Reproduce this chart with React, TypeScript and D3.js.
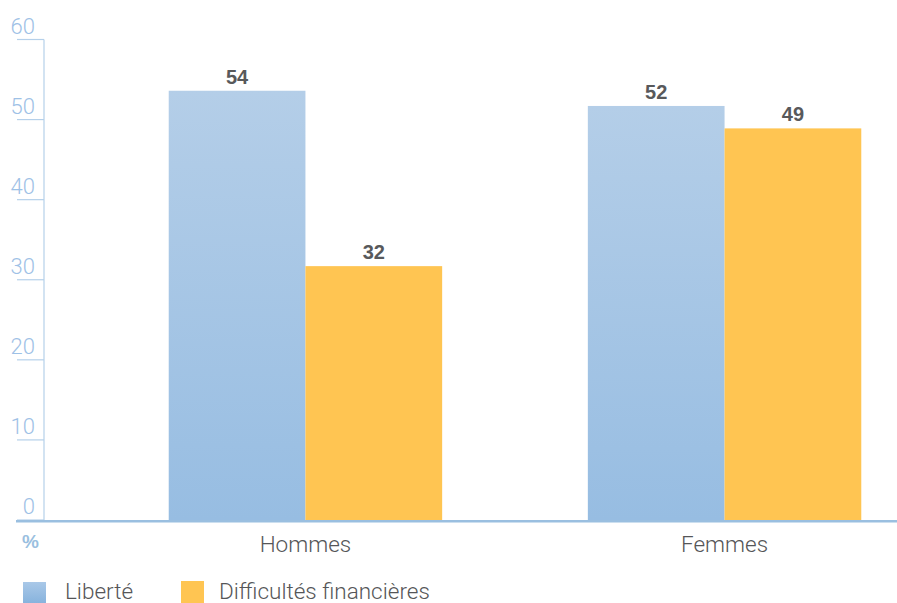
import React from "react";
import * as d3 from "d3";

const categories = ["Hommes", "Femmes"];
const seriesNames = ["Liberté", "Difficultés financières"];
const liberte = [53.6, 51.7];
const difficultes = [31.7, 48.9];
const yTicks = [0, 10, 20, 30, 40, 50, 60];

const W = 897;
const H = 603;
const axisX = 44;
const y0 = 520;
const yTop = 39.5;

export default function App() {
  const y = d3.scaleLinear().domain([0, 60]).range([y0, yTop]);
  const x = d3
    .scaleBand<string>()
    .domain(categories)
    .range([44, 986])
    .paddingInner(0.3476)
    .paddingOuter(0.2976);
  const sub = d3.scaleBand<string>().domain(seriesNames).range([0, x.bandwidth()]);
  const series = [
    { name: seriesNames[0], values: liberte, fill: "url(#blueGrad)" },
    { name: seriesNames[1], values: difficultes, fill: "#FFC552" },
  ];
  const fontLight = "Roboto, 'Liberation Sans', sans-serif";
  return (
    <svg
      width={W}
      height={H}
      style={{ position: "absolute", left: 0, top: 0, background: "#fff" }}
    >
      <defs>
        <linearGradient id="blueGrad" x1="0" y1="0" x2="0" y2="1">
          <stop offset="0" stopColor="#B4CEE8" />
          <stop offset="1" stopColor="#97BDE2" />
        </linearGradient>
        <linearGradient id="blueGradLeg" x1="0" y1="0" x2="0" y2="1">
          <stop offset="0" stopColor="#A9C8E8" />
          <stop offset="1" stopColor="#86B2DD" />
        </linearGradient>
      </defs>
      {/* y axis line */}
      <line x1={axisX} x2={axisX} y1={y(60)} y2={y0} stroke="#B5D0EA" strokeWidth={1.2} />
      {yTicks.map((t) => (
        <g key={t}>
          <line x1={17} x2={axisX} y1={y(t)} y2={y(t)} stroke="#B5D0EA" strokeWidth={1.2} />
          <text
            x={35}
            y={y(t) - 6}
            textAnchor="end"
            fontFamily={fontLight}
            fontWeight={300}
            fontSize={22}
            fill="#9EC1E6"
          >
            {t}
          </text>
        </g>
      ))}
      {/* bars */}
      {series.map((s) =>
        categories.map((c, i) => {
          const bx = (x(c) as number) + (sub(s.name) as number);
          const v = s.values[i];
          return (
            <g key={s.name + c}>
              <rect
                x={bx}
                y={y(v)}
                width={sub.bandwidth()}
                height={y0 - y(v)}
                fill={s.fill}
              />
              <text
                x={bx + sub.bandwidth() / 2}
                y={y(v) - 7}
                textAnchor="middle"
                fontFamily="'Liberation Sans', Arial, sans-serif"
                fontWeight="bold"
                fontSize={20}
                fill="#58595B"
              >
                {Math.round(v)}
              </text>
            </g>
          );
        })
      )}
      {/* baseline */}
      <line x1={16} x2={W} y1={y0 + 1.3} y2={y0 + 1.3} stroke="#9ABFE0" strokeWidth={2.6} />
      {/* % */}
      <text
        x={22}
        y={548}
        fontFamily="'Liberation Sans', Arial, sans-serif"
        fontWeight="bold"
        fontSize={19}
        fill="#9ABFE0"
      >
        %
      </text>
      {/* category labels */}
      {categories.map((c) => (
        <text
          key={c}
          x={(x(c) as number) + x.bandwidth() / 2}
          y={552}
          textAnchor="middle"
          fontFamily={fontLight}
          fontWeight={300}
          fontSize={22.5}
          fill="#555658"
        >
          {c}
        </text>
      ))}
      {/* legend */}
      <rect x={23} y={582} width={23} height={22} fill="url(#blueGradLeg)" />
      <text x={65} y={599} fontFamily={fontLight} fontWeight={300} fontSize={22.5} fill="#555658">
        {seriesNames[0]}
      </text>
      <rect x={181} y={581} width={23} height={22} fill="#FFC552" />
      <text x={219} y={599} fontFamily={fontLight} fontWeight={300} fontSize={22.5} fill="#555658">
        {seriesNames[1]}
      </text>
    </svg>
  );
}
